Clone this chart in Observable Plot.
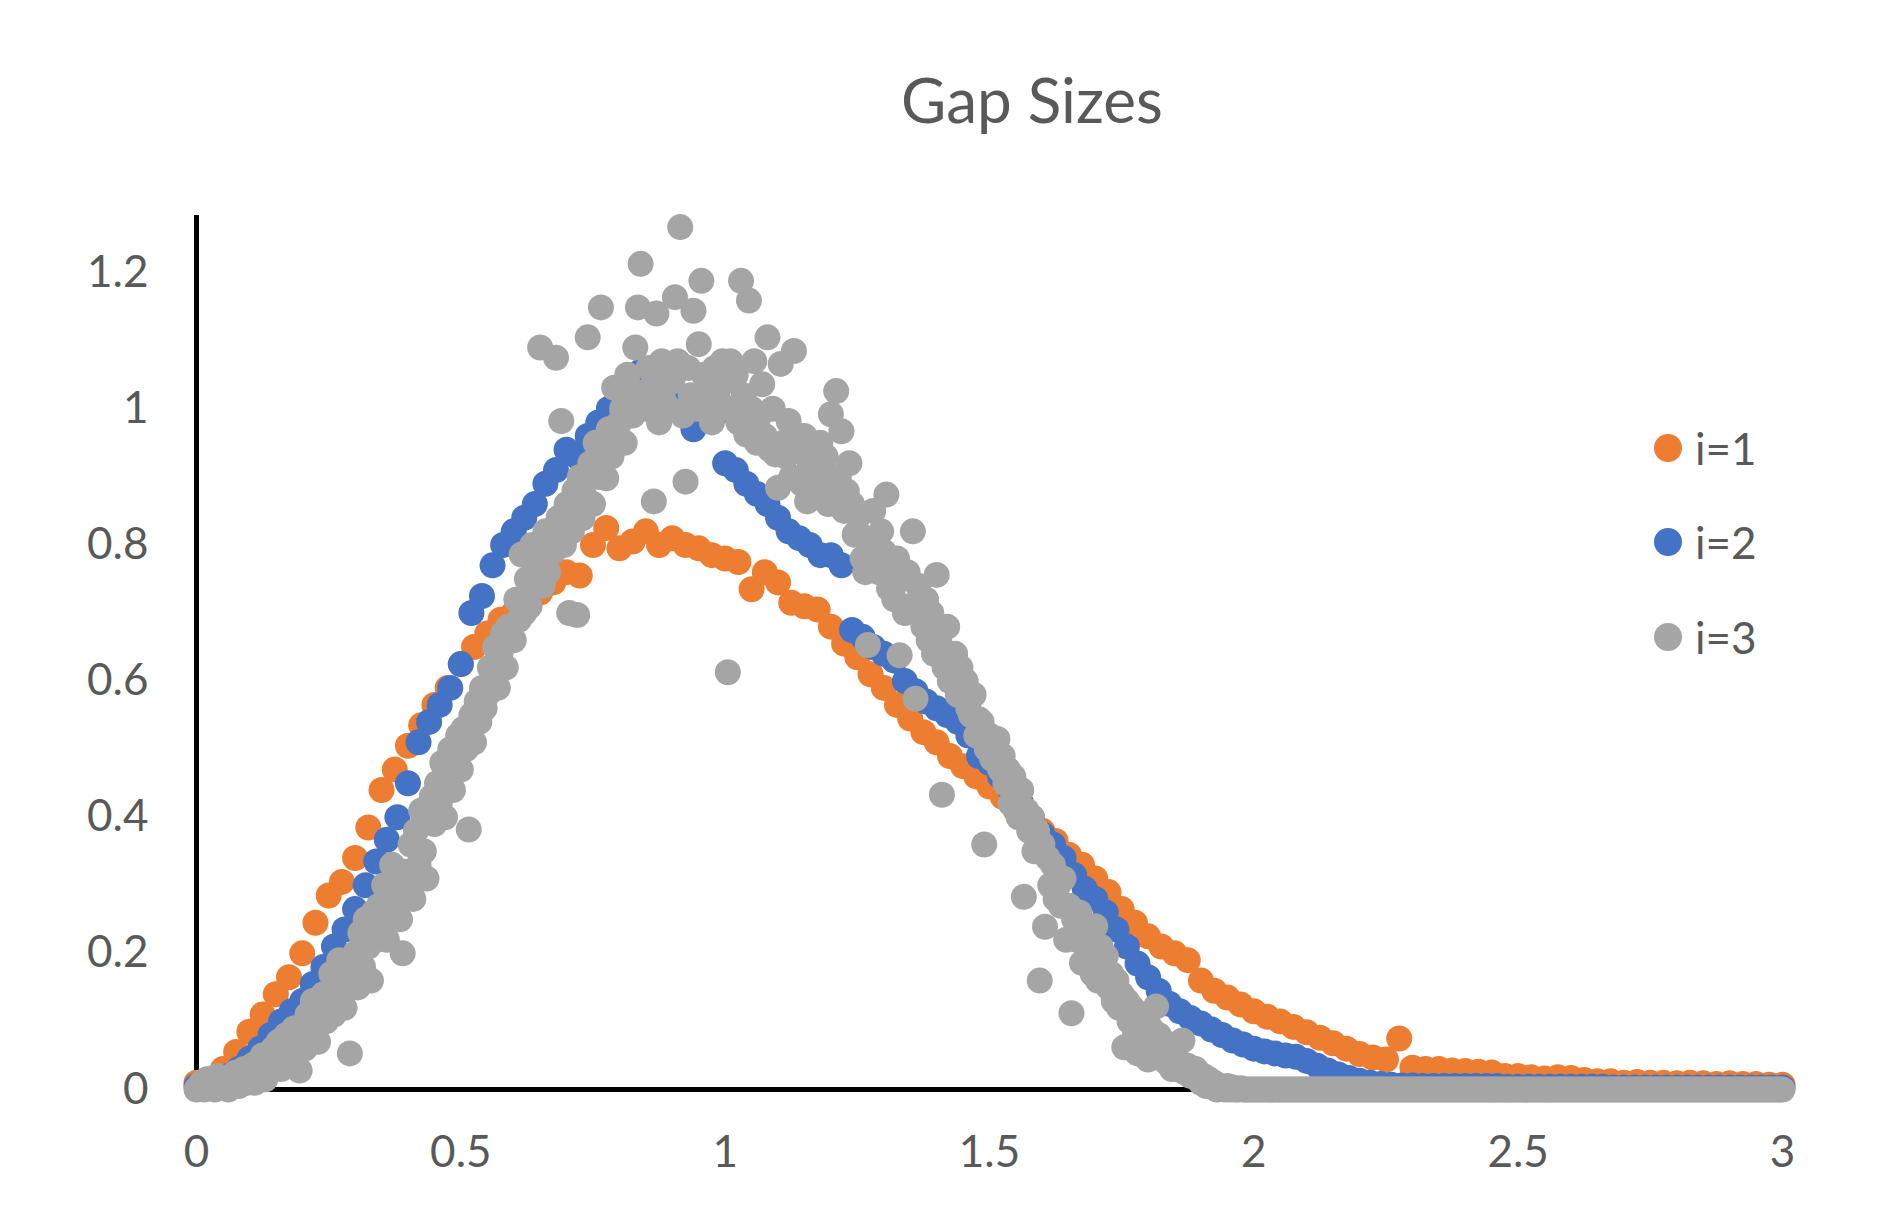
<!DOCTYPE html>
<html>
<head>
<meta charset="utf-8">
<script src="https://cdn.jsdelivr.net/npm/d3@7"></script>
<script src="https://cdn.jsdelivr.net/npm/@observablehq/plot@0.6"></script>
<style>
  html, body { margin: 0; padding: 0; background: #fff; }
  body { width: 1882px; height: 1232px; overflow: hidden; position: relative; font-family: Lato, "Liberation Sans", sans-serif; }
  #title { height: 160px; position: relative; }
  #title span { position: absolute; left: 1032px; top: 68px; transform: translateX(-50%); font-size: 62px; line-height: 62px; color: #595959; white-space: nowrap; }
  #legend .item { position: absolute; display: flex; align-items: center; height: 30px; }
  #legend .sw { width: 28px; height: 28px; border-radius: 50%; display: inline-block; }
  #legend .lb { margin-left: 13px; font-size: 44px; color: #595959; line-height: 30px; }
  svg { display: block; }
</style>
</head>
<body>
<div id="title"><span>Gap Sizes</span></div>
<div id="chart"></div>
<div id="legend"></div>
<script>
const seriesNames = ["i=1", "i=2", "i=3"];
const seriesColors = ["#ED7D31", "#4472C4", "#A5A5A5"];
const xTicks = [0, 0.5, 1, 1.5, 2, 2.5, 3];
const yTicks = [0, 0.2, 0.4, 0.6, 0.8, 1, 1.2];

// bin widths of the three series
const binWidth1 = 0.025;
const binWidth2 = 0.02;
const binWidth3 = 0.005;

// i=1 (bins of 0.025 from 0 to 3)
const gap1 = [
  0.01, 0.015, 0.03, 0.055, 0.085, 0.11, 0.14, 0.165, 0.2, 0.245,
  0.285, 0.305, 0.34, 0.385, 0.44, 0.47, 0.505, 0.535, 0.565, 0.59,
  0.625, 0.65, 0.67, 0.69, 0.70, 0.715, 0.73, 0.745, 0.76, 0.755,
  0.80, 0.825, 0.795, 0.805, 0.82, 0.80, 0.81, 0.80, 0.795, 0.785,
  0.78, 0.775, 0.735, 0.76, 0.745, 0.715, 0.71, 0.705, 0.68, 0.655,
  0.635, 0.61, 0.59, 0.565, 0.545, 0.525, 0.51, 0.49, 0.475, 0.46,
  0.445, 0.43, 0.41, 0.395, 0.38, 0.365, 0.345, 0.33, 0.31, 0.29,
  0.265, 0.245, 0.225, 0.21, 0.2, 0.19, 0.16, 0.145, 0.135, 0.125,
  0.115, 0.107, 0.1, 0.092, 0.084, 0.076, 0.068, 0.06, 0.052, 0.047,
  0.044, 0.075, 0.032, 0.03, 0.03, 0.028, 0.027, 0.026, 0.025, 0.02,
  0.02, 0.018, 0.016, 0.018, 0.017, 0.014, 0.012, 0.012, 0.01, 0.011,
  0.01, 0.01, 0.009, 0.01, 0.009, 0.008, 0.009, 0.008, 0.008, 0.007,
  0.007
];

// i=2 (bins of 0.02 from 0 to 3)
const gap2 = [
  0.005, 0.01, 0.015, 0.02, 0.03, 0.045, 0.06, 0.08, 0.10, 0.115,
  0.13, 0.155, 0.18, 0.21, 0.235, 0.265, 0.30, 0.335, 0.367, 0.40,
  0.45, 0.51, 0.54, 0.565, 0.59, 0.625, 0.70, 0.725, 0.77, 0.80,
  0.82, 0.84, 0.86, 0.89, 0.91, 0.94, 0.93, 0.96, 0.98, 1.0,
  1.01, 1.03, 1.055, 1.04, 1.01, 1.02, 1.0, 0.97, 1.0, 0.99,
  0.92, 0.91, 0.89, 0.875, 0.86, 0.84, 0.82, 0.81, 0.80, 0.785,
  0.785, 0.77, 0.675, 0.665, 0.65, 0.64, 0.63, 0.60, 0.585, 0.57,
  0.56, 0.55, 0.54, 0.52, 0.49, 0.48, 0.46, 0.44, 0.42, 0.40,
  0.375, 0.36, 0.34, 0.315, 0.295, 0.28, 0.26, 0.235, 0.21, 0.185,
  0.165, 0.145, 0.126, 0.115, 0.105, 0.097, 0.088, 0.08, 0.072, 0.066,
  0.06, 0.056, 0.053, 0.05, 0.048, 0.042, 0.035, 0.028, 0.022, 0.017,
  0.013, 0.01, 0.008, 0.007, 0.006, 0.006, 0.005, 0.005, 0.005, 0.005,
  0.005, 0.005, 0.005, 0.005, 0.004, 0.004, 0.004, 0.004, 0.004, 0.004,
  0.004, 0.004, 0.004, 0.004, 0.003, 0.003, 0.003, 0.003, 0.003, 0.003,
  0.003, 0.003, 0.003, 0.003, 0.003, 0.003, 0.003, 0.003, 0.003, 0.003,
  0.003
];

// i=3 (bins of 0.005 from 0 to 3)
const gap3 = [
  0, 0.005, 0.01, 0, 0.015, 0.005, 0.01, 0, 0.02, 0.005,
  0.01, 0.015, 0, 0.02, 0.01, 0.025, 0.005, 0.015, 0.03, 0.01,
  0.02, 0.035, 0.01, 0.04, 0.025, 0.05, 0.015, 0.045, 0.03, 0.06,
  0.04, 0.07, 0.03, 0.05, 0.08, 0.045, 0.06, 0.09, 0.055, 0.028,
  0.08, 0.06, 0.11, 0.09, 0.13, 0.1, 0.07, 0.12, 0.14, 0.1,
  0.13, 0.17, 0.11, 0.15, 0.19, 0.14, 0.12, 0.18, 0.053, 0.16,
  0.2, 0.15, 0.23, 0.18, 0.25, 0.21, 0.16, 0.26, 0.22, 0.27,
  0.24, 0.3, 0.22, 0.28, 0.33, 0.26, 0.31, 0.25, 0.2, 0.32,
  0.3, 0.36, 0.28, 0.38, 0.33, 0.41, 0.35, 0.31, 0.4, 0.43,
  0.39, 0.45, 0.42, 0.48, 0.4, 0.46, 0.5, 0.44, 0.49, 0.52,
  0.47, 0.53, 0.5, 0.382, 0.55, 0.51, 0.57, 0.54, 0.59, 0.56,
  0.58, 0.62, 0.6, 0.65, 0.59, 0.64, 0.67, 0.62, 0.68, 0.66,
  0.66, 0.72, 0.69, 0.786, 0.7, 0.75, 0.71, 0.8, 0.74, 0.78,
  1.09, 0.74, 0.82, 0.76, 0.815, 0.79, 1.075, 0.84, 0.982, 0.8,
  0.86, 0.7, 0.82, 0.88, 0.697, 0.9, 0.839, 0.87, 1.105, 0.92,
  0.86, 0.95, 0.9, 1.149, 0.952, 0.898, 0.97, 0.93, 1.031, 0.96,
  0.98, 1.0, 0.95, 1.05, 1.031, 0.99, 1.09, 1.149, 1.213, 1.02,
  1.0, 1.06, 1.031, 0.864, 1.14, 0.98, 1.07, 1.01, 1.05, 1.0,
  1.04, 1.164, 1.07, 1.267, 0.99, 0.893, 1.06, 1.02, 1.144, 1.0,
  1.095, 1.188, 1.05, 1.001, 1.03, 0.98, 1.06, 1.02, 1.0, 1.07,
  1.04, 0.613, 1.07, 1.0, 1.05, 0.98, 1.188, 1.02, 0.962, 1.159,
  1.0, 1.07, 0.95, 0.99, 1.036, 0.96, 1.105, 0.94, 1.0, 0.933,
  0.884, 1.066, 0.95, 0.93, 0.982, 0.9, 1.085, 0.94, 0.96, 0.89,
  0.96, 0.864, 0.92, 0.938, 0.88, 0.9, 0.95, 0.87, 0.93, 0.86,
  0.992, 0.88, 1.026, 0.9, 0.967, 0.85, 0.879, 0.92, 0.86, 0.815,
  0.82, 0.845, 0.78, 0.76, 0.653, 0.8, 0.85, 0.79, 0.76, 0.82,
  0.79, 0.874, 0.736, 0.77, 0.72, 0.78, 0.638, 0.75, 0.7, 0.76,
  0.71, 0.82, 0.574, 0.74, 0.702, 0.68, 0.72, 0.66, 0.7, 0.64,
  0.756, 0.66, 0.433, 0.62, 0.68, 0.6, 0.624, 0.64, 0.58, 0.62,
  0.579, 0.6, 0.56, 0.55, 0.58, 0.52, 0.544, 0.54, 0.36, 0.5,
  0.52, 0.486, 0.5, 0.515, 0.47, 0.49, 0.45, 0.47, 0.42, 0.46,
  0.433, 0.4, 0.44, 0.283, 0.41, 0.38, 0.4, 0.35, 0.38, 0.16,
  0.36, 0.239, 0.34, 0.3, 0.33, 0.28, 0.3, 0.27, 0.31, 0.22,
  0.27, 0.112, 0.25, 0.22, 0.26, 0.186, 0.23, 0.2, 0.24, 0.17,
  0.24, 0.16, 0.21, 0.18, 0.196, 0.15, 0.17, 0.13, 0.16, 0.12,
  0.14, 0.062, 0.13, 0.1, 0.12, 0.08, 0.053, 0.09, 0.11, 0.07,
  0.044, 0.09, 0.06, 0.122, 0.08, 0.05, 0.07, 0.04, 0.06, 0.03,
  0.05, 0.03, 0.04, 0.072, 0.025, 0.035, 0.02, 0.027, 0.03, 0.015,
  0.01, 0.02, 0.005, 0.015, 0.008, 0.01, 0, 0.005, 0.003, 0,
  0.005, 0, 0.003, 0, 0, 0.002, 0, 0, 0, 0,
  0, 0, 0, 0, 0, 0, 0, 0, 0, 0,
  0, 0, 0, 0, 0, 0, 0, 0, 0, 0,
  0, 0, 0, 0, 0, 0, 0, 0, 0, 0,
  0, 0, 0, 0, 0, 0, 0, 0, 0, 0,
  0, 0, 0, 0, 0, 0, 0, 0, 0, 0,
  0, 0, 0, 0, 0, 0, 0, 0, 0, 0,
  0, 0, 0, 0, 0, 0, 0, 0, 0, 0,
  0, 0, 0, 0, 0, 0, 0, 0, 0, 0,
  0, 0, 0, 0, 0, 0, 0, 0, 0, 0,
  0, 0, 0, 0, 0, 0, 0, 0, 0, 0,
  0, 0, 0, 0, 0, 0, 0, 0, 0, 0,
  0, 0, 0, 0, 0, 0, 0, 0, 0, 0,
  0, 0, 0, 0, 0, 0, 0, 0, 0, 0,
  0, 0, 0, 0, 0, 0, 0, 0, 0, 0,
  0, 0, 0, 0, 0, 0, 0, 0, 0, 0,
  0, 0, 0, 0, 0, 0, 0, 0, 0, 0,
  0, 0, 0, 0, 0, 0, 0, 0, 0, 0,
  0, 0, 0, 0, 0, 0, 0, 0, 0, 0,
  0, 0, 0, 0, 0, 0, 0, 0, 0, 0,
  0, 0, 0, 0, 0, 0, 0, 0, 0, 0,
  0
];

const seriesValues = [gap1, gap2, gap3];
const seriesSteps = [binWidth1, binWidth2, binWidth3];

const data = [];
seriesValues.forEach((vals, s) => {
  vals.forEach((v, i) => {
    data.push({ x: +(i * seriesSteps[s]).toFixed(4), y: v, series: seriesNames[s] });
  });
});

const chart = Plot.plot({
  width: 1882,
  height: 1072,
  marginTop: 55,
  marginBottom: 143,
  marginLeft: 196,
  marginRight: 100,
  style: { fontFamily: "Lato, 'Liberation Sans', sans-serif", fontSize: "44px", color: "#595959", background: "white" },
  x: { domain: [0, 3], ticks: xTicks, tickSize: 0, tickPadding: 46, tickFormat: d => String(d), label: null },
  y: { domain: [0, 1.284], ticks: yTicks, tickSize: 0, tickPadding: 48, tickFormat: d => String(d), label: null },
  color: { domain: seriesNames, range: seriesColors },
  marks: [
    Plot.ruleX([0], { stroke: "black", strokeWidth: 5 }),
    Plot.ruleY([0], { stroke: "black", strokeWidth: 5 }),
    Plot.dot(data, { x: "x", y: "y", fill: "series", r: 13, stroke: null })
  ]
});
document.getElementById("chart").appendChild(chart);

// legend
const legendY = [448, 542, 637];
const legend = document.getElementById("legend");
seriesNames.forEach((name, i) => {
  const item = document.createElement("div");
  item.className = "item";
  item.style.left = "1654px";
  item.style.top = (legendY[i] - 15) + "px";
  const sw = document.createElement("span");
  sw.className = "sw";
  sw.style.background = seriesColors[i];
  const lb = document.createElement("span");
  lb.className = "lb";
  lb.textContent = name;
  item.appendChild(sw);
  item.appendChild(lb);
  legend.appendChild(item);
});
</script>
</body>
</html>
